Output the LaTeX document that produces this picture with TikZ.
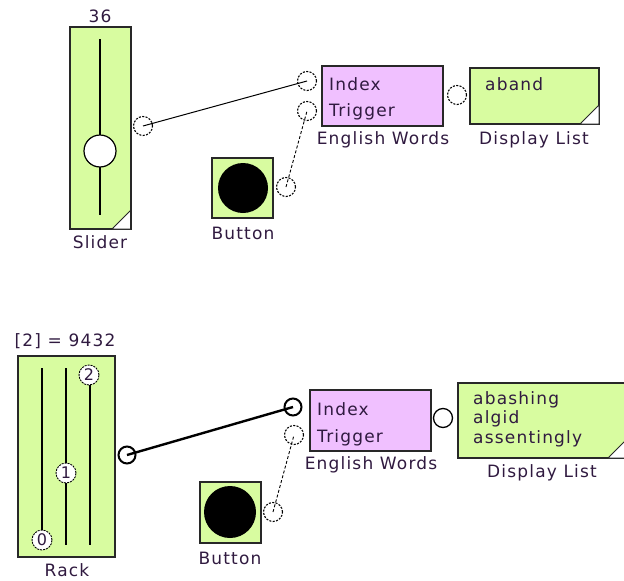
\documentclass[tikz,border=0pt]{standalone}
\usepackage{fontspec}
\newfontfamily\uifont{DejaVu Sans}[LetterSpace=7]
\definecolor{boxgreen}{RGB}{216,252,160}
\definecolor{boxpink}{RGB}{240,192,255}
\definecolor{txt}{RGB}{48,26,64}
\definecolor{edge}{RGB}{40,40,40}
\begin{document}
\begin{tikzpicture}[x=1pt,y=-1pt,
  every node/.style={font=\uifont\fontsize{17}{19.5}\selectfont, text=txt},
  gbox/.style={draw=edge, line width=1.3pt, fill=boxgreen, rectangle, inner sep=0pt},
  pbox/.style={draw=edge, line width=1.3pt, fill=boxpink, rectangle, inner sep=0pt},
  port/.style={circle, draw=black, dash pattern=on 2pt off 1.4pt, line width=1.1pt, fill=white, minimum size=19pt, inner sep=0pt},
  boldport/.style={circle, draw=black, line width=2pt, fill=white, minimum size=17pt, inner sep=0pt},
  solidport/.style={circle, draw=black, line width=1.3pt, fill=white, minimum size=19pt, inner sep=0pt},
  knob/.style={circle, draw=black, dash pattern=on 2pt off 1pt, line width=0.9pt, fill=white, minimum size=20pt, inner sep=0pt, font=\uifont\fontsize{16}{16}\selectfont},
  lab/.style={inner sep=0pt},
  corner/.style={fill=white, draw=edge, line width=1pt},
  wire/.style={line width=1pt},
  dwire/.style={line width=0.9pt, dash pattern=on 3pt off 2pt},
  bwire/.style={line width=2.4pt}]
\useasboundingbox (0,0) rectangle (624,581);
\clip (0,0) rectangle (624,581);
% ---------- top: Slider ----------
\node[gbox, minimum width=61pt, minimum height=202pt] (slider) at (100.5,128) {};
\draw[line width=1.2pt] (100,39) -- (100,215);
\node[circle, draw=black, line width=1.2pt, fill=white, minimum size=32pt, inner sep=0pt] (sknob) at (100,151) {};
\filldraw[corner] (112,229) -- (130.5,210.5) -- (130.5,229) -- cycle;
\node[lab] (sval) at (100,16) {36};
\node[lab] (slab) at (100,242) {Slider};
% ---------- top: Button ----------
\node[gbox, minimum width=61pt, minimum height=60pt] (btn1) at (242.5,188) {};
\fill[black] (243,188) circle (25);
\node[lab] (b1lab) at (243,233) {Button};
% ---------- top: English Words ----------
\node[pbox, minimum width=121pt, minimum height=60pt] (ew1) at (382.5,96) {};
\node[lab, anchor=west] (ew1i) at (329,84) {Index};
\node[lab, anchor=west] (ew1t) at (329,112) {Trigger};
\node[lab] (ew1lab) at (383,140) {English Words};
% ---------- top: Display List ----------
\node[gbox, minimum width=129pt, minimum height=56pt] (dl1) at (534.5,96) {};
\filldraw[corner] (580,124) -- (599,105) -- (599,124) -- cycle;
\node[lab, anchor=west] (dl1t) at (485,84) {aband};
\node[lab] (dl1lab) at (534,140) {Display List};
% ---------- top ports ----------
\node[port] (p1) at (143,126) {};
\node[port] (p2) at (307,81) {};
\node[port] (p3) at (307,111) {};
\node[port] (p4) at (286,187) {};
\node[port] (p5) at (457,95) {};
\draw[wire] (p1.center) -- (p2.center);
\draw[dwire] (p4.center) -- (p3.center);
% ---------- bottom: Rack ----------
\node[gbox, minimum width=97pt, minimum height=201pt] (rack) at (66.5,456.5) {};
\draw[line width=1.2pt] (42,368) -- (42,545);
\draw[line width=1.2pt] (66,368) -- (66,545);
\draw[line width=1.2pt] (90,368) -- (90,545);
\node[knob] (k0) at (42,540) {0};
\node[knob] (k1) at (66,473) {1};
\node[knob] (k2) at (89,375) {2};
\node[lab] (rval) at (65,341) {[2] = 9432};
\node[lab] (rlab) at (67,570) {Rack};
% ---------- bottom: Button ----------
\node[gbox, minimum width=61pt, minimum height=61pt] (btn2) at (230.5,512.5) {};
\fill[black] (230,512) circle (26);
\node[lab] (b2lab) at (230,558) {Button};
% ---------- bottom: English Words ----------
\node[pbox, minimum width=121pt, minimum height=61pt] (ew2) at (370.5,420.5) {};
\node[lab, anchor=west] (ew2i) at (317,409) {Index};
\node[lab, anchor=west] (ew2t) at (317,438) {Trigger};
\node[lab] (ew2lab) at (371,465) {English Words};
% ---------- bottom: Display List ----------
\node[gbox, minimum width=172pt, minimum height=75pt] (dl2) at (544,420.5) {};
\filldraw[corner] (608,458) -- (630,436) -- (630,458) -- cycle;
\node[lab, anchor=west, align=left] (dl2t) at (473,419) {abashing\\algid\\assentingly};
\node[lab] (dl2lab) at (542,473) {Display List};
% ---------- bottom ports ----------
\node[boldport] (q1) at (127,455) {};
\node[boldport] (q2) at (293,407) {};
\node[port] (q3) at (294,435) {};
\node[port] (q4) at (273,512) {};
\node[solidport] (q5) at (443,418) {};
\draw[bwire] (q1.center) -- (q2.center);
\draw[dwire] (q4.center) -- (q3.center);
\end{tikzpicture}
\end{document}
